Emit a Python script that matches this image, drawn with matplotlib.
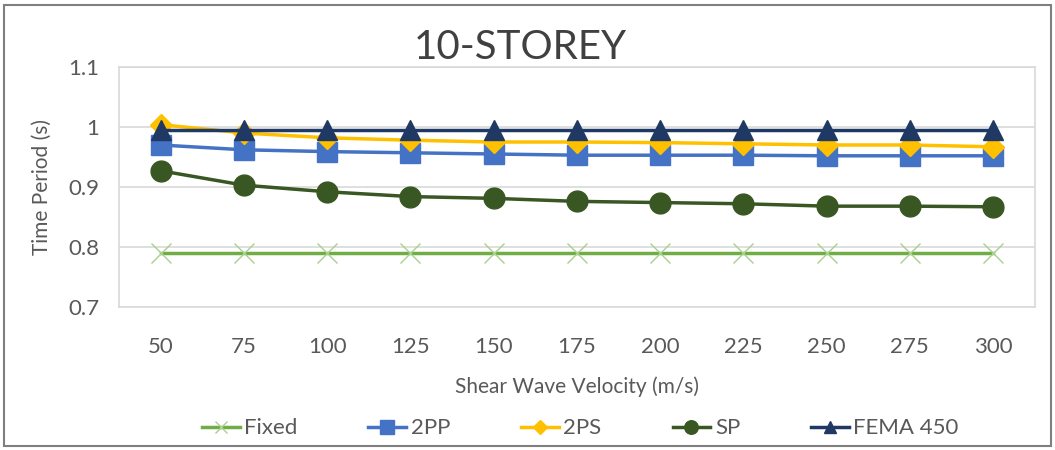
import matplotlib.pyplot as plt
from matplotlib.patches import Rectangle

plt.rcParams['font.family'] = ['Lato', 'DejaVu Sans']

velocity = [50, 75, 100, 125, 150, 175, 200, 225, 250, 275, 300]
fixed = [0.79] * 11
pp2 = [0.970, 0.962, 0.959, 0.957, 0.955, 0.953, 0.953, 0.953, 0.952, 0.952, 0.952]
ps2 = [1.004, 0.990, 0.982, 0.978, 0.975, 0.975, 0.974, 0.972, 0.970, 0.970, 0.967]
sp = [0.927, 0.903, 0.892, 0.884, 0.881, 0.876, 0.874, 0.872, 0.868, 0.868, 0.867]
fema = [0.995] * 11

txt = '#595959'
fig = plt.figure(figsize=(10.55, 4.5), dpi=100)
ax = fig.add_axes([0.1128, 0.318, 0.868, 0.533])
x = list(range(len(velocity)))

ax.plot(x, fixed, color='#70ad47', lw=2.5, marker='x', ms=14, mew=1,
        mec='#a9d18e', label='Fixed')
ax.plot(x, pp2, color='#4472c4', lw=2.5, marker='s', ms=15, label='2PP')
ax.plot(x, ps2, color='#ffc000', lw=2.5, marker='D', ms=11, label='2PS')
ax.plot(x, sp, color='#385723', lw=2.5, marker='o', ms=15, label='SP')
ax.plot(x, fema, color='#203864', lw=2.5, marker='^', ms=14, label='FEMA 450')

ax.set_xlim(-0.5, len(x) - 0.5)
ax.set_ylim(0.7, 1.1)
ax.set_yticks([0.7, 0.8, 0.9, 1.0, 1.1])
ax.set_yticklabels(['0.7', '0.8', '0.9', '1', '1.1'])
ax.set_xticks(x)
ax.set_xticklabels([str(v) for v in velocity])
ax.tick_params(length=0, labelsize=16, labelcolor=txt)
ax.tick_params(axis='x', pad=22)
ax.tick_params(axis='y', pad=14)
ax.grid(axis='y', color='#d9d9d9', lw=1.2)
ax.set_axisbelow(True)
for s in ax.spines.values():
    s.set_color('#d9d9d9')
    s.set_linewidth(1.2)

ax.set_xlabel('Shear Wave Velocity (m/s)', fontsize=15, color=txt, labelpad=14)
ax.set_ylabel('Time Period (s)', fontsize=15, color=txt, labelpad=12)
fig.text(0.493, 0.895, '10-STOREY', ha='center', va='center', fontsize=29, color='#404040')

fig.legend(loc='center', bbox_to_anchor=(0.55, 0.048), ncol=5, frameon=False,
           fontsize=16, labelcolor=txt, handlelength=1.7, handletextpad=0.2,
           columnspacing=3.2, markerscale=0.65)

fig.patches.append(Rectangle((0.004, 0.01), 0.992, 0.98, transform=fig.transFigure,
                             fill=False, ec='#7f7f7f', lw=1.5))

fig.savefig('out.png', dpi=100)
